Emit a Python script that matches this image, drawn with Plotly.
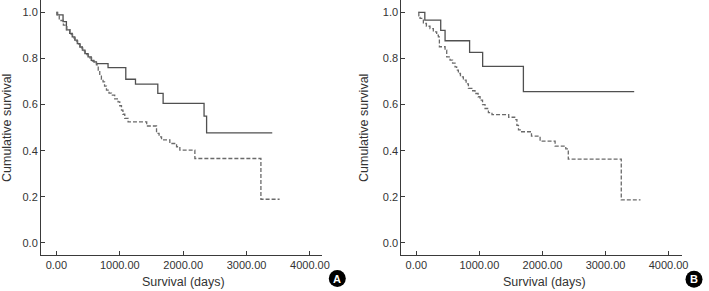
import plotly.graph_objects as go
from plotly.subplots import make_subplots

# ---- data ----
A_solid_t = [0, 8, 105, 158, 210, 250, 290, 330, 370, 410, 450, 500, 550, 590, 632, 815, 1095, 1248, 1600, 1684, 2330, 2370, 3406]
A_solid_s = [1.0, 0.989, 0.960, 0.924, 0.909, 0.894, 0.880, 0.865, 0.850, 0.836, 0.821, 0.807, 0.792, 0.785, 0.778, 0.760, 0.710, 0.689, 0.649, 0.605, 0.550, 0.477, 0.477]

A_dash_t = [0, 20, 45, 110, 165, 215, 255, 295, 335, 375, 415, 455, 505, 555, 600, 632, 660, 684, 710, 736,
            760, 790, 830, 869, 920, 973, 1000, 1027, 1050, 1079, 1131, 1425, 1580, 1620, 1659, 1790, 1896, 1948, 2185, 3227, 3522]
A_dash_s = [1.0, 0.985, 0.965, 0.945, 0.925, 0.905, 0.89, 0.876, 0.861, 0.846, 0.832, 0.817, 0.803, 0.789, 0.782, 0.772, 0.75, 0.728, 0.71, 0.699,
            0.68, 0.663, 0.65, 0.641, 0.625, 0.612, 0.595, 0.576, 0.558, 0.540, 0.525, 0.507, 0.475, 0.46, 0.447, 0.431, 0.417, 0.402, 0.366, 0.189, 0.189]

B_solid_t = [32, 135, 387, 456, 845, 1052, 1698, 3455]
B_solid_s = [1.0, 0.967, 0.922, 0.877, 0.827, 0.766, 0.656, 0.656]

B_dash_t = [32, 40, 59, 112, 160, 217, 270, 323, 350, 366, 456, 482, 535, 575, 614, 640, 667, 700, 746, 790,
            826, 880, 931, 980, 1011, 1050, 1090, 1143, 1200, 1465, 1560, 1595, 1620, 1660, 1826, 1963, 2201, 2370, 2410, 3250, 3555]
B_dash_s = [1.0, 0.985, 0.974, 0.952, 0.94, 0.930, 0.916, 0.901, 0.894, 0.851, 0.836, 0.807, 0.793, 0.78, 0.764, 0.75, 0.735, 0.72, 0.706, 0.69,
            0.670, 0.66, 0.648, 0.634, 0.619, 0.60, 0.583, 0.565, 0.556, 0.545, 0.535, 0.51, 0.49, 0.482, 0.463, 0.441, 0.420, 0.408, 0.363, 0.186, 0.186]

x_ticks = [0, 1000, 2000, 3000, 4000]
x_ticklabels = ["0.00", "1000.00", "2000.00", "3000.00", "4000.00"]
y_ticks = [0.0, 0.2, 0.4, 0.6, 0.8, 1.0]
y_ticklabels = ["0.0", "0.2", "0.4", "0.6", "0.8", "1.0"]
panel_labels = ["A", "B"]
x_title = "Survival (days)"
y_title = "Cumulative survival"

W, H = 709, 291
ML, MR, MT, MB = 41, 27, 0, 36
PW, PH = W - ML - MR, H - MT - MB

def px2x(px):
    return (px - ML) / PW

def py2y(py):
    return (H - MB - py) / PH

FONT = "Liberation Sans, Arial, sans-serif"
TXT = "#333333"
AX = "#3a3a3a"

fig = make_subplots(rows=1, cols=2, horizontal_spacing=0.1)
dom_a = [0, px2x(322)]
dom_b = [px2x(401.3), 1]

curves = [
    (A_solid_t, A_solid_s, 1, "solid", "#505050"),
    (A_dash_t, A_dash_s, 1, "4px,2px", "#6a6a6a"),
    (B_solid_t, B_solid_s, 2, "solid", "#505050"),
    (B_dash_t, B_dash_s, 2, "4px,2px", "#6a6a6a"),
]
for t, s, col, dash, c in curves:
    fig.add_trace(go.Scatter(x=t, y=s, mode="lines", line=dict(shape="hv", color=c, width=1.3, dash=dash),
                             showlegend=False, hoverinfo="skip"), row=1, col=col)

axis_common = dict(showgrid=False, zeroline=False, showline=True, linecolor=AX, linewidth=1,
                   ticks="inside", ticklen=4, tickcolor=AX, tickwidth=1,
                   tickfont=dict(family=FONT, size=11, color=TXT))
fig.update_xaxes(**axis_common, tickvals=x_ticks, ticktext=x_ticklabels)
fig.update_yaxes(**axis_common, tickvals=y_ticks, ticktext=y_ticklabels, range=[-0.053, 1.054])
fig.update_layout(xaxis=dict(domain=dom_a, range=[-243, 4191]),
                  xaxis2=dict(domain=dom_b, range=[-238, 4213]))

ann = []
for cx, cy_title_x in [(183, 7), (544, 364)]:
    ann.append(dict(x=px2x(cx), y=py2y(282), xref="paper", yref="paper", text=x_title, showarrow=False,
                    font=dict(family=FONT, size=12.5, color=TXT), xanchor="center", yanchor="middle"))
    ann.append(dict(x=px2x(cy_title_x), y=py2y(128), xref="paper", yref="paper", text=y_title, showarrow=False,
                    textangle=-90, font=dict(family=FONT, size=12.5, color=TXT), xanchor="center", yanchor="middle"))

shapes = []
for lab, (cx, cy) in zip(panel_labels, [(337.3, 278.5), (694, 279.3)]):
    r = 8.5
    shapes.append(dict(type="circle", xref="paper", yref="paper", x0=px2x(cx - r), x1=px2x(cx + r),
                       y0=py2y(cy + r), y1=py2y(cy - r), fillcolor="black", line=dict(color="black", width=0)))
    ann.append(dict(x=px2x(cx), y=py2y(cy), xref="paper", yref="paper", text="<b>%s</b>" % lab, showarrow=False,
                    font=dict(family=FONT, size=11, color="white"),
                    xanchor="center", yanchor="middle"))

fig.update_layout(width=W, height=H, margin=dict(l=ML, r=MR, t=MT, b=MB), paper_bgcolor="white",
                  plot_bgcolor="white", annotations=ann, shapes=shapes)
fig.write_html("out.html")
